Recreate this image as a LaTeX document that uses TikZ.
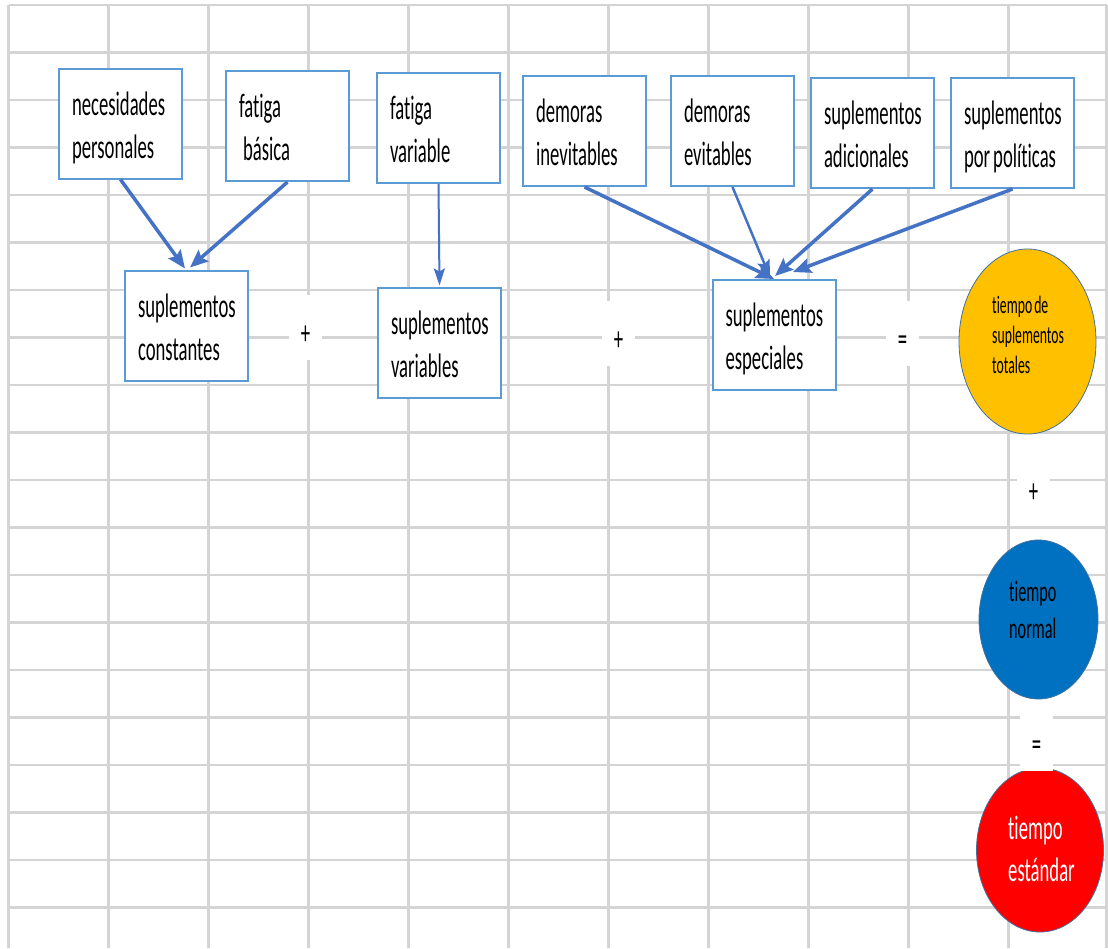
\documentclass[tikz,border=0pt]{standalone}
\usepackage{fontspec}
\setmainfont{Carlito}[FakeStretch=0.55,Ligatures=NoCommon]
\usetikzlibrary{arrows.meta,shapes.geometric}

\definecolor{gridgray}{HTML}{D4D4D4}
\definecolor{boxblue}{HTML}{5B9BD5}
\definecolor{arrowblue}{HTML}{4472C4}
\definecolor{edgeblue}{HTML}{41719C}
\definecolor{goldfill}{HTML}{FFC000}
\definecolor{normalfill}{HTML}{0070C0}
\definecolor{redfill}{HTML}{FF0000}

\newcommand\txtbig{\fontsize{34pt}{43pt}\selectfont}
\newcommand\txtred{\fontsize{34pt}{42pt}\selectfont}
\newcommand\txtmid{\fontsize{29.5pt}{37pt}\selectfont}
\newcommand\txtsmall{\fontsize{25pt}{30pt}\selectfont}

\begin{document}
\begin{tikzpicture}[x=1pt,y=-1pt,
  gridh/.style={draw=gridgray,line width=2.8pt},
  gridv/.style={draw=gridgray,line width=2.2pt},
  conceptbox/.style={draw=boxblue,line width=2pt,fill=white,
    text width=97pt,align=left,inner xsep=13pt,inner ysep=0pt,
    minimum height=110pt,font=\txtbig,text height=20pt,text depth=37pt},
  opsign/.style={fill=white,minimum width=33pt,minimum height=65pt,
    inner sep=0pt,font=\txtbig,text height=34pt,text depth=0pt},
  blob/.style={ellipse,draw=edgeblue,line width=0.8pt,inner sep=0pt},
  blobtext/.style={align=left,inner sep=0pt,anchor=west},
  link/.style={draw=arrowblue,line width=3.5pt,
    -{Stealth[length=18pt,width=15pt,inset=3pt]}},
  thinlink/.style={draw=arrowblue,line width=2.5pt,
    -{Stealth[length=17pt,width=13pt,inset=3pt]}},
  vlink/.style={draw=arrowblue,line width=2pt,
    -{Stealth[length=17pt,width=11pt,inset=3pt]}}
]
\fill[white] (0,0) rectangle (1108,948);
\useasboundingbox (0,0) rectangle (1108,948);

% spreadsheet grid
\foreach \k in {0,...,19}{
  \pgfmathsetmacro\yy{5+47.5*\k}
  \draw[gridh] (8.5,\yy) -- (1107,\yy);
}
\foreach \x in {8.5,108.5,...,1008.5}{
  \draw[gridv] (\x,5) -- (\x,948);
}
\draw[gridv] (1106.5,5) -- (1106.5,948);

% operator signs between the terms
\node[opsign] (plusA) at (305.5,327) {+};
\node[opsign] (plusB) at (618.5,333.5) {+};
\node[opsign] (eqA) at (902.5,333.5) {=};
\node[opsign] (plusC) at (1033.5,485.5) {+};

% top row of concepts
\node[conceptbox] (nec) at (120.5,123.5) {\mbox{necesidades}\\\mbox{personales}};
\node[conceptbox] (fb) at (287.5,126) {fatiga\\\hspace*{4pt}básica};
\node[conceptbox] (fv) at (438.5,128) {fatiga\\variable};
\node[conceptbox] (di) at (584.5,131) {demoras\\\mbox{inevitables}};
\node[conceptbox] (de) at (732.5,131) {demoras\\evitables};
\node[conceptbox] (sa) at (872.5,133) {\mbox{suplementos}\\\mbox{adicionales}};
\node[conceptbox] (sp) at (1012.5,133) {\mbox{suplementos}\\\mbox{por\hspace{3pt}políticas}};

% grouped allowances
\node[conceptbox] (sc) at (186.5,325.5) {\mbox{suplementos}\\\mbox{constantes}};
\node[conceptbox] (sv) at (439.5,342.5) {\mbox{suplementos}\\variables};
\node[conceptbox] (se) at (774,335) {\mbox{suplementos}\\\mbox{especiales}};

% totals
\node[blob,fill=goldfill,minimum width=137pt,minimum height=185pt] (tot) at (1027.5,341.5) {};
\node[blobtext,font=\txtsmall] (totT) at (992,335) {tiempo\hspace{2pt}de\\suplementos\\totales};
\node[blob,fill=normalfill,minimum width=119pt,minimum height=159pt] (nor) at (1038.5,619.5) {};
\node[blobtext,font=\txtmid] (norT) at (1009,610) {tiempo\\normal};
\node[blob,fill=redfill,minimum width=127pt,minimum height=164pt] (est) at (1040,850) {};
\node[blobtext,font=\txtred,text=white] (estT) at (1008,849) {tiempo\\estándar};
\node[opsign] (eqB) at (1036.5,738) {=};

% connectors
\draw[link] (nec.south) -- ([xshift=-1.5pt,yshift=1pt]sc.north);
\draw[link] (fb.south) -- ([xshift=3.5pt,yshift=2pt]sc.north);
\draw[vlink] (fv.south) -- ([yshift=1pt]sv.north);
\draw[link] (di.south) -- (se.north);
\draw[thinlink] (de.south) -- ([xshift=-4pt,yshift=2pt]se.north);
\draw[link] (sa.south) -- ([xshift=1pt,yshift=3pt]se.north);
\draw[link] (sp.south) -- ([xshift=19pt,yshift=7pt]se.north);
\end{tikzpicture}
\end{document}
